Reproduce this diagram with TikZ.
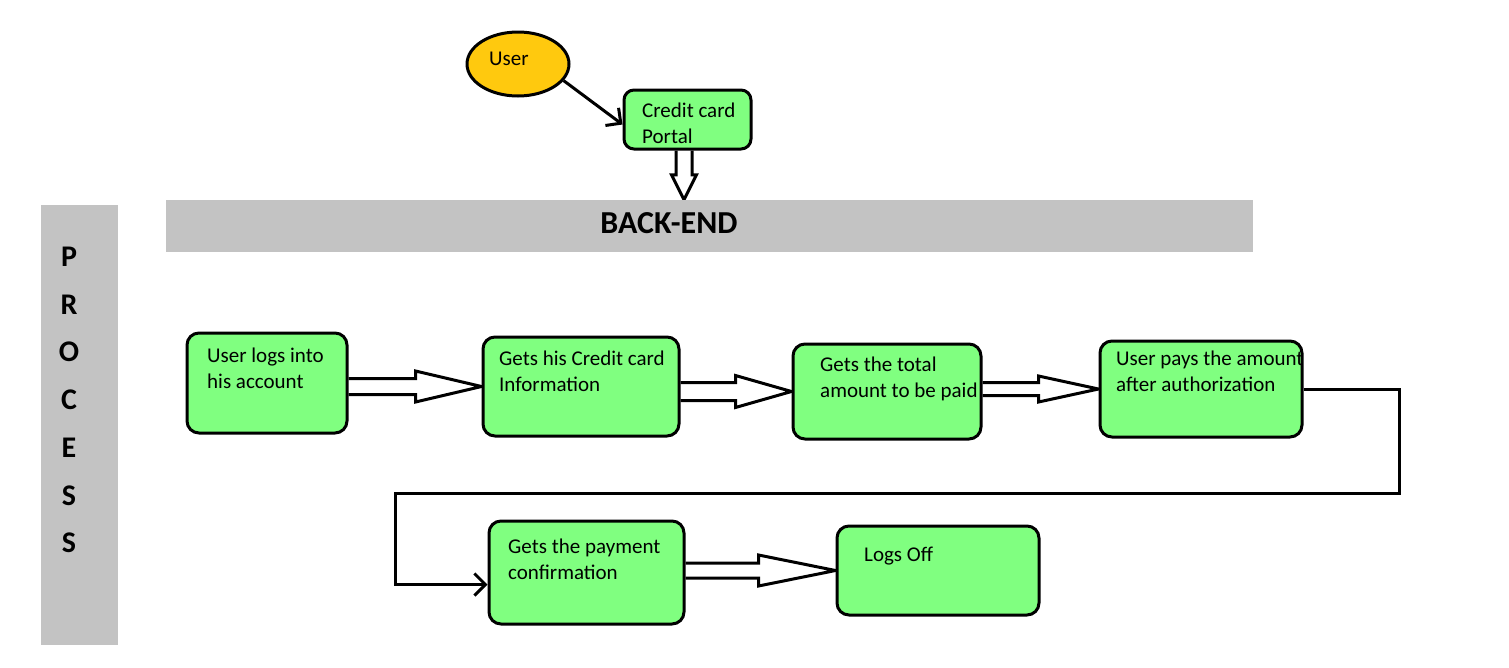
\documentclass[tikz,border=0pt]{standalone}
\usepackage{fontspec}
\setmainfont{Carlito}
\usetikzlibrary{calc,arrows.meta,backgrounds,shapes.geometric}
\definecolor{boxgreen}{HTML}{80FF80}
\definecolor{usergold}{HTML}{FFC90E}
\definecolor{bargray}{HTML}{C3C3C3}
\tikzset{
  stepbox/.style={draw=black, line width=3pt, fill=boxgreen, rounded corners=12pt, inner sep=0pt},
  txt/.style={anchor=north west, inner sep=0pt, align=left, font=\fontsize{21}{26}\selectfont},
  hollow/.style={draw=black, line width=3pt, fill=white, line join=miter},
  conn/.style={draw=black, line width=3pt},
  barb/.style={-{Straight Barb[length=11pt,width=22pt,line width=3pt]}},
  graybar/.style={fill=bargray, draw=none, inner sep=0pt},
}
\newcommand\blockarr[5]{%
  \draw[hollow] let \p1=(#1.east), \p2=(#2.west) in
    (\x1,\y2+#3) -- (\x2-#5,\y2+#3) -- (\x2-#5,\y2+#4) -- (\x2,\y2)
    -- (\x2-#5,\y2-#4) -- (\x2-#5,\y2-#3) -- (\x1,\y2-#3);}
\begin{document}
\begin{tikzpicture}[x=1pt,y=-1pt]
\useasboundingbox (0,0) rectangle (1509,667);

% gray bars
\node[graybar, minimum width=77pt, minimum height=440pt] (pbar) at (79.5,425) {};
\node[graybar, minimum width=1087pt, minimum height=52pt] (bbar) at (709.5,226) {};
\node[font=\bfseries\fontsize{30}{47.7}\selectfont, align=center, inner sep=0pt] (proc) at (69,400) {P\\R\\O\\C\\E\\S\\S};
\node[font=\bfseries\fontsize{32}{36}\selectfont, inner sep=0pt] (be) at (669,223) {BACK-END};

% top part
\node[draw=black, line width=3pt, fill=usergold, ellipse, minimum width=102pt, minimum height=64pt, inner sep=0pt] (user) at (518,64) {};
\node[txt, anchor=base west] (usert) at (489,65) {User};
\node[stepbox, rounded corners=10pt, minimum width=127pt, minimum height=59pt] (portal) at (687.5,119.5) {};
\node[txt] (portalt) at (642,103) {Credit card\\Portal};

% process boxes
\node[stepbox, minimum width=160pt, minimum height=100pt] (b1) at (267,383) {};
\node[stepbox, minimum width=196pt, minimum height=99pt] (b2) at (581,386.5) {};
\node[stepbox, minimum width=188pt, minimum height=95pt] (b3) at (887,391.5) {};
\node[stepbox, minimum width=202pt, minimum height=96pt] (b4) at (1201,389) {};
\node[stepbox, minimum width=195pt, minimum height=103pt] (b5) at (586.5,572.5) {};
\node[stepbox, minimum width=202pt, minimum height=89pt] (b6) at (938,570.5) {};

\node[txt] (b1t) at (207,348) {User logs into\\his account};
\node[txt] (b2t) at (499,351) {Gets his Credit card\\Information};
\node[txt] (b3t) at (820,357) {Gets the total\\amount to be paid};
\node[txt] (b4t) at (1116,351) {User pays the amount\\after authorization};
\node[txt] (b5t) at (508,539) {Gets the payment\\confirmation};
\node[txt] (b6t) at (864,547) {Logs Off};

% connectors
\coordinate (rc) at (1399,493);
\coordinate (lc) at (395,493);
\begin{scope}[on background layer]
  \blockarr{b1}{b2}{8pt}{15.5pt}{66pt}
  \blockarr{b2}{b3}{9pt}{16pt}{56pt}
  \blockarr{b3}{b4}{6.5pt}{13pt}{60pt}
  \blockarr{b5}{b6}{7.5pt}{15.5pt}{77pt}
  \draw[hollow] let \p1=([xshift=-3.5pt]portal.south), \p2=(bbar.north) in
    (\x1-8pt,\y1) -- (\x1-8pt,\y2+25pt) -- (\x1-12.5pt,\y2+25pt) -- (\x1,\y2)
    -- (\x1+12.5pt,\y2+25pt) -- (\x1+8pt,\y2+25pt) -- (\x1+8pt,\y1);
\end{scope}
\draw[conn, barb] (user.-20) -- ([yshift=-5pt]portal.west);
\draw[conn, barb, line join=miter] (b4.east) -| (rc) -- (lc) |- ([yshift=-12pt]b5.west);
\end{tikzpicture}
\end{document}
